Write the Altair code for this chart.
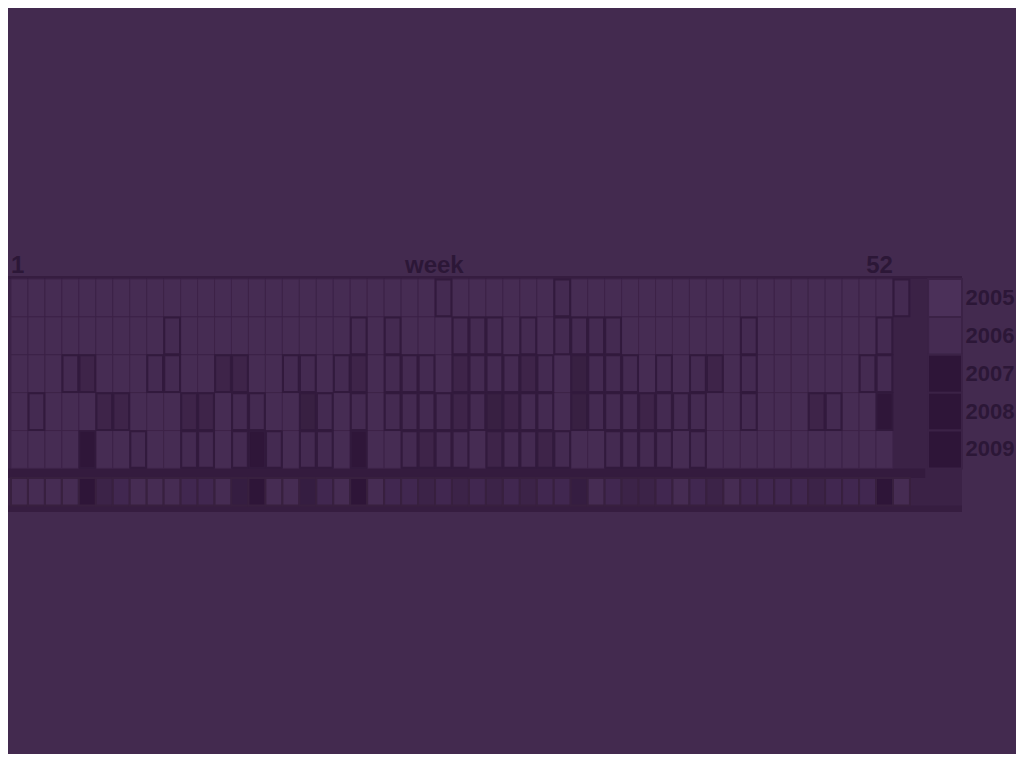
import altair as alt
import pandas as pd

# ---------------- data ----------------
YEARS = ["2005", "2006", "2007", "2008", "2009"]

# shade level per week (0 = empty, 1 = outlined, 2..4 = darker)
W2005 = [0, 0, 0, 0, 0, 0, 0, 0, 0, 0,
         0, 0, 0, 0, 0, 0, 0, 0, 0, 0,
         0, 0, 0, 0, 0, 1, 0, 0, 0, 0,
         0, 0, 1, 0, 0, 0, 0, 0, 0, 0,
         0, 0, 0, 0, 0, 0, 0, 0, 0, 0,
         0, 0, 1]
W2006 = [0, 0, 0, 0, 0, 0, 0, 0, 0, 1,
         0, 0, 0, 0, 0, 0, 0, 0, 0, 0,
         1, 0, 1, 0, 0, 0, 1, 1, 1, 0,
         1, 0, 1, 1, 1, 1, 0, 0, 0, 0,
         0, 0, 0, 1, 0, 0, 0, 0, 0, 0,
         0, 1]
W2007 = [0, 0, 0, 1, 2, 0, 0, 0, 1, 1,
         0, 0, 2, 2, 0, 0, 1, 1, 0, 1,
         2, 0, 1, 1, 1, 0, 2, 1, 1, 1,
         2, 1, 0, 3, 1, 1, 1, 0, 1, 0,
         1, 2, 0, 1, 0, 0, 0, 0, 0, 0,
         1, 1]
W2008 = [0, 1, 0, 0, 0, 2, 2, 0, 0, 0,
         2, 2, 0, 1, 1, 0, 0, 3, 1, 0,
         1, 0, 1, 1, 1, 1, 2, 1, 3, 2,
         1, 1, 0, 3, 1, 1, 1, 2, 1, 1,
         1, 0, 0, 1, 0, 0, 0, 2, 1, 0,
         0, 4]
W2009 = [0, 0, 0, 0, 4, 0, 0, 1, 0, 0,
         1, 1, 0, 1, 4, 1, 0, 1, 1, 0,
         4, 0, 0, 1, 2, 1, 1, 0, 2, 1,
         1, 2, 1, 0, 0, 1, 1, 1, 1, 0,
         1, 0, 0, 0, 0, 0, 0, 0, 0, 0,
         0, 0]
SUMMARY = [0, 0, 0, 0, 4, 2, 1, 0, 0, 0,
           1, 1, 0, 3, 4, 0, 0, 3, 1, 0,
           4, 0, 1, 1, 2, 1, 2, 1, 2, 1,
           2, 1, 1, 3, 0, 1, 2, 2, 1, 0,
           1, 2, 0, 1, 1, 1, 1, 2, 1, 1,
           1, 4, 0]
TOTALS = [-1, 0, 4, 4, 4]
TOP_TICKS = [1, 52]
AXIS_TITLE = "week"

# ---------------- tables ----------------
cell_rows = []
for r, (yr, vals) in enumerate(zip(YEARS, [W2005, W2006, W2007, W2008, W2009])):
    for i, v in enumerate(vals):
        cell_rows.append({"year": yr, "row": r, "week": i + 1, "level": v})
cells = pd.DataFrame(cell_rows)
summary = pd.DataFrame({"week": list(range(1, len(SUMMARY) + 1)), "level": SUMMARY})
totals = pd.DataFrame({"year": YEARS, "row": list(range(len(YEARS))), "level": TOTALS})
ticks = pd.DataFrame({"week": TOP_TICKS, "label": [str(t) for t in TOP_TICKS]})

# ---------------- style ----------------
BG = "#432a4f"
PANEL = "#3b2246"
BAND = "#361d40"
SEP = "#341b3e"
GRID = "#3d2348"
BORDER = "#321a3d"
TEXT = "#2c1737"
FONT = "Liberation Sans, Arial, sans-serif"
MAIN_RANGE = ["#462c53", "#442a51", "#3e2449", "#382042", "#2f1639"]
SUM_RANGE = ["#462c53", "#412750", "#3c2348", "#351d41", "#2e1538"]
TOT_RANGE = ["#4b3059", "#452b52", "#3c2348", "#351d41", "#2e1538", "#2e1538"]

X_MIN, X_MAX = -0.177, 56.07
Y_MIN, Y_MAX = -0.079, 6.15
xs = alt.Scale(domain=[X_MIN, X_MAX], nice=False, zero=False)
ys = alt.Scale(domain=[Y_MIN, Y_MAX], nice=False, zero=False, reverse=True)

one = pd.DataFrame({"k": [0]})


def band(x0, x1, y0, y1, color):
    return alt.Chart(one).mark_rect(color=color).encode(
        x=alt.XDatum(x0, scale=xs, axis=None), x2=alt.X2Datum(x1),
        y=alt.YDatum(y0, scale=ys, axis=None), y2=alt.Y2Datum(y1))


panel = band(X_MIN, X_MAX, Y_MIN, Y_MAX, PANEL)
top_band = band(X_MIN, X_MAX, Y_MIN, -0.005, BAND)
sep_band = band(X_MIN, 53.9, 5.0, 5.25, SEP)
bot_band = band(X_MIN, X_MAX, 5.98, Y_MAX, BAND)

main_fill = alt.Fill("level:O", scale=alt.Scale(domain=[0, 1, 2, 3, 4], range=MAIN_RANGE), legend=None)

base_cells = alt.Chart(cells).transform_filter("datum.level == 0").transform_calculate(
    x0="datum.week - 1", x1="datum.week", y0="datum.row", y1="datum.row + 1"
).mark_rect(stroke=GRID, strokeWidth=1).encode(
    x=alt.X("x0:Q", scale=xs, axis=None), x2="x1:Q",
    y=alt.Y("y0:Q", scale=ys, axis=None), y2="y1:Q",
    fill=main_fill)

marked_cells = alt.Chart(cells).transform_filter("datum.level > 0").transform_calculate(
    x0="datum.week - 1", x1="datum.week", y0="datum.row", y1="datum.row + 1"
).mark_rect(stroke=BORDER, strokeWidth=2, xOffset=0.6, x2Offset=-0.6, yOffset=0.6, y2Offset=-0.6).encode(
    x=alt.X("x0:Q", scale=xs, axis=None), x2="x1:Q",
    y=alt.Y("y0:Q", scale=ys, axis=None), y2="y1:Q",
    fill=main_fill)

sum_cells = alt.Chart(summary).transform_calculate(
    x0="datum.week - 1", x1="datum.week"
).mark_rect(stroke="#38203f", strokeWidth=2).encode(
    x=alt.X("x0:Q", scale=xs, axis=None), x2="x1:Q",
    y=alt.YDatum(5.25, scale=ys, axis=None), y2=alt.Y2Datum(5.98),
    fill=alt.Fill("level:O", scale=alt.Scale(domain=[0, 1, 2, 3, 4], range=SUM_RANGE), legend=None))

tot_cells = alt.Chart(totals).transform_calculate(
    y0="datum.row", y1="datum.row + 1"
).mark_rect(stroke=PANEL, strokeWidth=2).encode(
    x=alt.XDatum(54.07, scale=xs, axis=None), x2=alt.X2Datum(X_MAX),
    y=alt.Y("y0:Q", scale=ys, axis=None), y2="y1:Q",
    fill=alt.Fill("level:O", scale=alt.Scale(domain=[-1, 0, 1, 2, 3, 4], range=TOT_RANGE), legend=None))

txt = dict(font=FONT, fontSize=24, fontWeight="bold", color=TEXT)

year_labels = alt.Chart(totals).transform_calculate(yc="datum.row + 0.5").mark_text(
    align="left", baseline="middle", font=FONT, fontSize=22, fontWeight="bold", color=TEXT).encode(
    x=alt.XDatum(56.28, scale=xs, axis=None),
    y=alt.Y("yc:Q", scale=ys, axis=None),
    text="year:N")

tick_first = alt.Chart(ticks).transform_filter("datum.week == 1").transform_calculate(
    xp="datum.week - 1").mark_text(align="left", baseline="alphabetic", **txt).encode(
    x=alt.X("xp:Q", scale=xs, axis=None),
    y=alt.YDatum(-0.16, scale=ys, axis=None), text="label:N")

tick_last = alt.Chart(ticks).transform_filter("datum.week == 52").mark_text(
    align="right", baseline="alphabetic", **txt).encode(
    x=alt.X("week:Q", scale=xs, axis=None),
    y=alt.YDatum(-0.16, scale=ys, axis=None), text="label:N")

title_txt = alt.Chart(pd.DataFrame({"t": [AXIS_TITLE]})).mark_text(
    align="center", baseline="alphabetic", **txt).encode(
    x=alt.XDatum(24.96, scale=xs, axis=None),
    y=alt.YDatum(-0.16, scale=ys, axis=None), text="t:N")

chart = alt.layer(
    panel, top_band, sep_band, bot_band,
    base_cells, marked_cells, sum_cells, tot_cells,
    year_labels, tick_first, tick_last, title_txt
).resolve_scale(fill="independent").properties(
    width=954, height=236,
    padding={"left": 0, "top": 268, "right": 54, "bottom": 242},
    autosize=alt.AutoSizeParams(type="none"),
).configure(background=BG).configure_view(stroke=None)

chart.save("out.html", embed_options={"renderer": "svg", "actions": False})
